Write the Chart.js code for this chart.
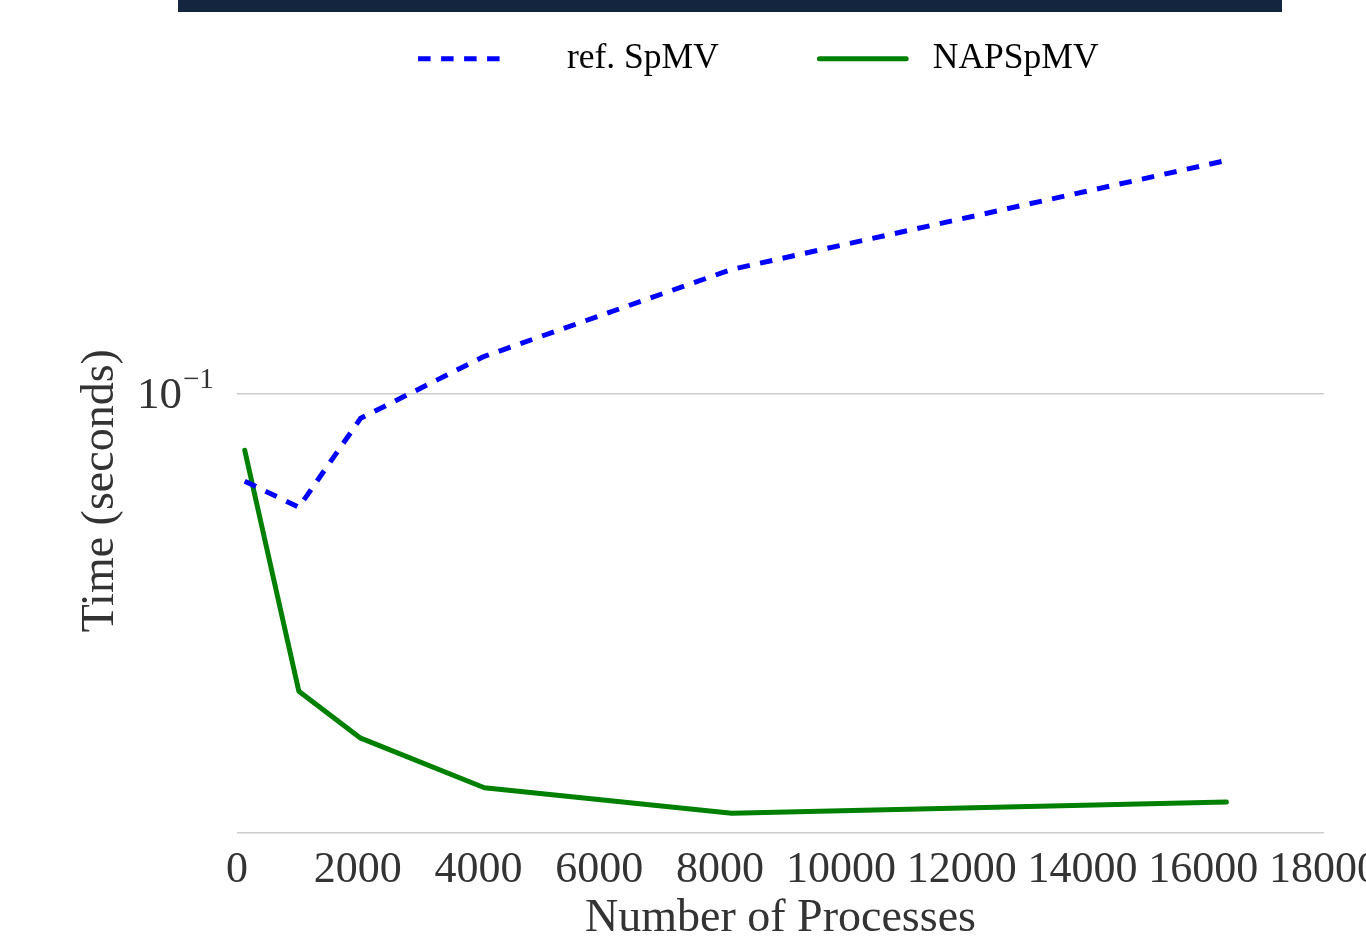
<!DOCTYPE html>
<html>
<head>
<meta charset="utf-8">
<script src="https://cdn.jsdelivr.net/npm/chart.js@4.4.1/dist/chart.umd.min.js"></script>
<style>
    html, body { margin: 0; padding: 0; background: #fff; overflow: hidden; }
    #wrap { position: relative; width: 1366px; height: 942px; overflow: hidden; }
    #band { position: absolute; left: 178px; top: 0; width: 1104px; height: 12px; background: #13253f; }
    /* el canvas sube un poco para que la leyenda quede pegada arriba */
    canvas { position: absolute; left: 0; top: -33px; }
</style>
</head>
<body>
<div id="wrap">
    <canvas id="scaling-chart" width="1366" height="975"></canvas>
    <div id="band"></div>
</div>
<script>
// procesos (eje x) y tiempos en segundos (eje y, log)
const processes = [128, 1024, 2048, 4096, 8192, 16384];
const refSpmv = [0.0725, 0.0659, 0.0913, 0.1145, 0.1574, 0.2345];
const napSpmv = [0.0812, 0.0336, 0.0283, 0.0236, 0.0215, 0.0224];
const seriesLabels = ['ref. SpMV', 'NAPSpMV'];
const xTicks = [0, 2000, 4000, 6000, 8000, 10000, 12000, 14000, 16000, 18000];
const yTicks = [0.02, 0.1];

const serif = "'Liberation Serif', 'DejaVu Serif', serif";
const textColor = '#333333';

// etiqueta 10^-1 con superindice
const powerLabel = {
    id: 'powerLabel',
    afterDraw(chart) {
        const scale = chart.scales.y;
        const y = scale.getPixelForValue(0.1);
        const ctx = chart.ctx;
        ctx.save();
        ctx.fillStyle = textColor;
        ctx.textAlign = 'left';
        ctx.textBaseline = 'alphabetic';
        ctx.font = '45px ' + serif;
        ctx.fillText('10', scale.right - 100, y + 15);
        ctx.font = '29px ' + serif;
        ctx.fillText('\u22121', scale.right - 54, y - 5);
        ctx.restore();
    }
};

const ctx = document.getElementById('scaling-chart').getContext('2d');

const chart = new Chart(ctx, {
    type: 'line',
    data: {
        datasets: [
            {
                label: seriesLabels[0],
                data: processes.map((p, i) => ({ x: p, y: refSpmv[i] })),
                borderColor: '#0000ff',
                backgroundColor: 'transparent',
                borderWidth: 5,
                borderDash: [12.5, 10.5],
                borderCapStyle: 'butt',
                pointRadius: 0,
                tension: 0,
                fill: false
            },
            {
                label: seriesLabels[1],
                data: processes.map((p, i) => ({ x: p, y: napSpmv[i] })),
                borderColor: '#008000',
                backgroundColor: 'transparent',
                borderWidth: 5,
                borderCapStyle: 'round',
                borderJoinStyle: 'round',
                pointRadius: 0,
                tension: 0,
                fill: false
            }
        ]
    },
    options: {
        responsive: false,
        animation: false,
        layout: {
            padding: { top: 0, right: 42, bottom: 0, left: 0 }
        },
        plugins: {
            tooltip: { enabled: false },
            legend: {
                position: 'top',
                fullSize: false,
                labels: {
                    // caja de alto 0 = linea (con guiones) como muestra
                    boxWidth: 86.75,
                    boxHeight: 0,
                    padding: 74,
                    color: '#000000',
                    font: { family: serif, size: 35.5 },
                    generateLabels(chart) {
                        const items = Chart.defaults.plugins.legend.labels.generateLabels(chart);
                        items[0].text = '     ' + items[0].text + '   ';
                        items[1].text = ' ' + items[1].text + '     ';
                        return items;
                    }
                }
            },
            // hueco vacio entre la leyenda y el area del grafico
            subtitle: {
                display: true,
                text: '',
                position: 'top',
                weight: 500,
                fullSize: false,
                padding: 0,
                font: { size: 62, lineHeight: 1 }
            }
        },
        scales: {
            x: {
                type: 'linear',
                min: 0,
                max: 18000,
                afterBuildTicks: s => { s.ticks = xTicks.map(v => ({ value: v })); },
                afterFit: s => { s.height = 109; s.paddingLeft = 0; s.paddingRight = 0; },
                grid: { display: false },
                border: { display: false },
                ticks: {
                    autoSkip: false,
                    maxRotation: 0,
                    padding: 3,
                    color: textColor,
                    font: { family: serif, size: 44 },
                    callback: v => String(v)
                },
                title: {
                    display: true,
                    text: 'Number of Processes',
                    color: textColor,
                    font: { family: serif, size: 46, lineHeight: 1 },
                    padding: { top: 0, bottom: 0 }
                }
            },
            y: {
                type: 'logarithmic',
                min: 0.02,
                max: 0.245,
                afterBuildTicks: s => { s.ticks = yTicks.map(v => ({ value: v })); },
                afterFit: s => { s.width = 237; s.paddingTop = 0; s.paddingBottom = 0; },
                grid: { color: '#cccccc', lineWidth: 1.5, drawTicks: false },
                border: { display: false },
                ticks: {
                    callback: () => ''
                },
                title: {
                    display: true,
                    text: 'Time (seconds)',
                    color: textColor,
                    font: { family: serif, size: 46 },
                    padding: { top: 73, bottom: 0 }
                }
            }
        }
    },
    plugins: [powerLabel]
});
</script>
</body>
</html>
